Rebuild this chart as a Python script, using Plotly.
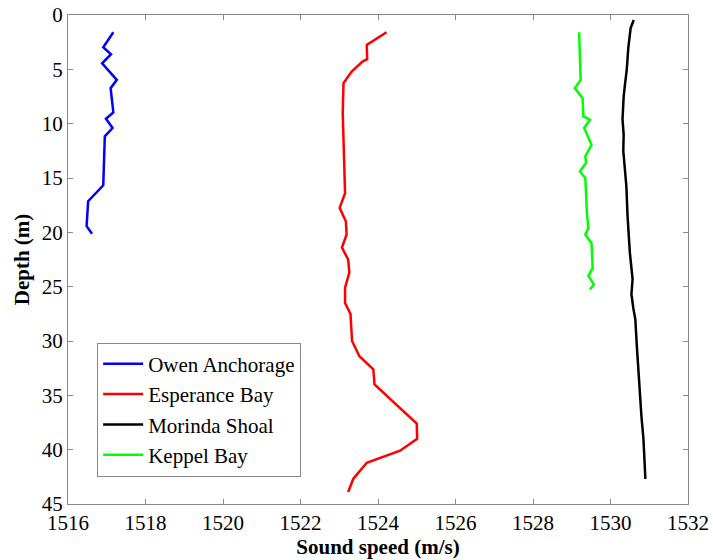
import plotly.graph_objects as go

owen_speed = [1517.17, 1516.91, 1517.11, 1516.88, 1517.26, 1517.10, 1517.17, 1516.98, 1517.15, 1516.95, 1516.91, 1516.52, 1516.48, 1516.62]
owen_depth = [1.59, 2.97, 3.61, 4.44, 5.97, 6.73, 8.97, 9.55, 10.4, 11.17, 15.67, 17.14, 19.44, 20.14]

esp_speed = [1524.22, 1523.71, 1523.72, 1523.60, 1523.32, 1523.11, 1523.09, 1523.15, 1523.01, 1523.17, 1523.19, 1523.07, 1523.23, 1523.26,
             1523.15, 1523.15, 1523.29, 1523.33, 1523.52, 1523.88, 1523.91, 1525.00, 1525.01, 1524.57, 1523.71, 1523.36, 1523.23]
esp_depth = [1.59, 2.75, 4.07, 4.28, 5.2, 6.27, 9.03, 16.4, 17.75, 18.98, 20.2, 21.4, 22.5, 23.7,
             25.1, 26.5, 27.5, 30.0, 31.4, 32.6, 34.0, 37.6, 39.0, 40.1, 41.2, 42.7, 43.9]

mor_speed = [1530.60, 1530.52, 1530.46, 1530.42, 1530.37, 1530.34, 1530.31, 1530.34, 1530.33, 1530.36, 1530.41, 1530.44, 1530.50,
             1530.57, 1530.54, 1530.59, 1530.64, 1530.68, 1530.72, 1530.78, 1530.80, 1530.85, 1530.90]
mor_depth = [0.46, 1.2, 3.0, 5.0, 6.5, 7.5, 9.6, 11.0, 12.5, 14.0, 15.8, 18.5, 21.9, 24.3, 25.7,
             27.0, 28.0, 30.5, 32.9, 36.0, 37.0, 39.0, 42.7]

kep_speed = [1529.19, 1529.23, 1529.08, 1529.28, 1529.30, 1529.47, 1529.32, 1529.51, 1529.35, 1529.37, 1529.21, 1529.35,
             1529.39, 1529.43, 1529.35, 1529.51, 1529.54, 1529.43, 1529.57, 1529.47]
kep_depth = [1.59, 5.97, 6.73, 7.65, 9.33, 9.64, 10.4, 11.94, 13.0, 13.6, 14.4, 15.0,
             18.2, 19.6, 20.2, 21.0, 23.3, 24.0, 24.8, 25.25]

x_ticks = [1516, 1518, 1520, 1522, 1524, 1526, 1528, 1530, 1532]
y_ticks = [0, 5, 10, 15, 20, 25, 30, 35, 40, 45]

series = [
    ("Owen Anchorage", owen_speed, owen_depth, "#0000FF"),
    ("Esperance Bay", esp_speed, esp_depth, "#FF0000"),
    ("Morinda Shoal", mor_speed, mor_depth, "#000000"),
    ("Keppel Bay", kep_speed, kep_depth, "#00FF00"),
]

fig = go.Figure()
for name, xs, ys, col in series:
    fig.add_trace(go.Scatter(x=xs, y=ys, mode="lines", name=name,
                             line=dict(color=col, width=2.5)))

font = "Liberation Serif"
axis_common = dict(showgrid=False, zeroline=False, showline=True, linecolor="#8a8a8a", linewidth=1,
                   mirror="ticks", ticks="inside", ticklen=5, tickcolor="#8a8a8a",
                   ticklabeloverflow="allow", automargin=False,
                   tickfont=dict(family=font, size=21, color="black"))

fig.update_layout(
    width=713, height=560,
    margin=dict(l=68, r=25, t=15, b=56),
    paper_bgcolor="white", plot_bgcolor="white",
    xaxis=dict(range=[1516, 1532], tickvals=x_ticks,
               title=dict(text="<b>Sound speed (m/s)</b>", font=dict(family=font, size=21, color="black"), standoff=2),
               **axis_common),
    yaxis=dict(range=[45, 0], tickvals=y_ticks,
               title=dict(text="<b>Depth (m)</b>", font=dict(family=font, size=21, color="black"), standoff=6),
               **axis_common),
    legend=dict(x=0.047, y=0.33, xanchor="left", yanchor="top",
                bordercolor="#8a8a8a", borderwidth=1, bgcolor="white",
                font=dict(family=font, size=21, color="black"),
                tracegroupgap=0, itemwidth=40),
    showlegend=True,
)

fig.write_html("out.html")
